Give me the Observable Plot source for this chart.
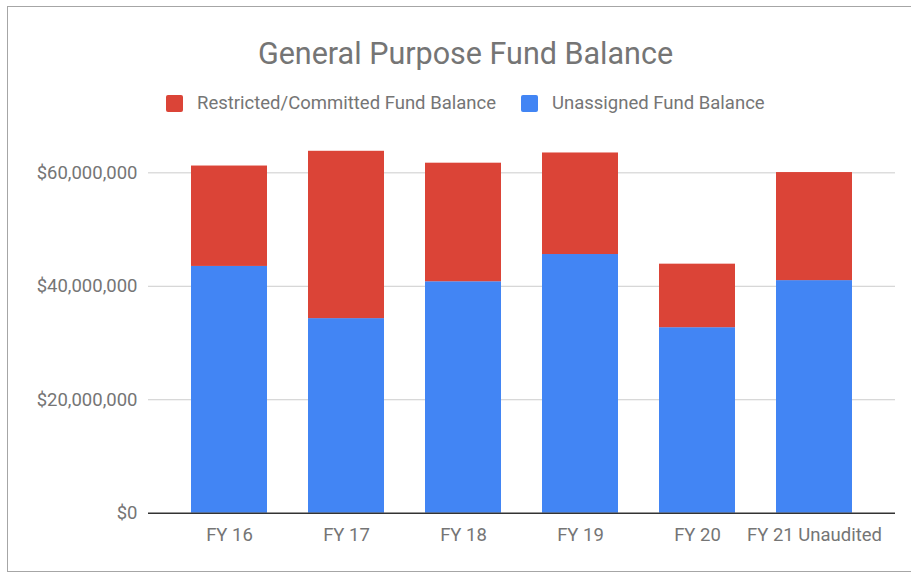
<!DOCTYPE html>
<html>
<head>
<meta charset="utf-8">
<script src="https://cdn.jsdelivr.net/npm/d3@7"></script>
<script src="https://cdn.jsdelivr.net/npm/@observablehq/plot@0.6"></script>
<style>
  html, body { margin: 0; padding: 0; background: #fff; }
  body { width: 911px; height: 574px; position: relative; overflow: hidden; font-family: Roboto, "Noto Sans", sans-serif; }
  #frame { position: absolute; left: 7px; top: 6px; width: 910px; height: 566px; border: 1px solid #a6a6a6; box-sizing: border-box; }
  #title { position: absolute; left: 0; width: 931px; top: 36px; text-align: center; font-size: 30.5px; color: #757575; line-height: 36px; }
  .leg { position: absolute; top: 93px; height: 20px; display: flex; align-items: center; font-size: 18.5px; color: #757575; white-space: nowrap; }
  .sw { width: 17px; height: 17px; border-radius: 2px; margin-right: 14px; }
  #chart { position: absolute; left: 0; top: 120px; }
</style>
</head>
<body>
<div id="frame"></div>
<div id="title">General Purpose Fund Balance</div>
<div id="legend"></div>
<div id="chart"></div>
<script>
const categories = ["FY 16", "FY 17", "FY 18", "FY 19", "FY 20", "FY 21 Unaudited"];
const unassigned = [43500000, 34300000, 40800000, 45600000, 32700000, 41000000];
const restricted = [17700000, 29500000, 20900000, 17900000, 11200000, 19050000];
const seriesNames = ["Unassigned Fund Balance", "Restricted/Committed Fund Balance"];
const seriesColors = ["#4285f4", "#db4437"];
const yTicks = [0, 20000000, 40000000, 60000000];
const legendOrder = ["Restricted/Committed Fund Balance", "Unassigned Fund Balance"];
const legendLeft = [166, 521];

const data = [];
categories.forEach((c, i) => {
  data.push({cat: c, series: seriesNames[0], value: unassigned[i]});
  data.push({cat: c, series: seriesNames[1], value: restricted[i]});
});

const legend = document.getElementById("legend");
legendOrder.forEach((name, i) => {
  const d = document.createElement("div");
  d.className = "leg";
  d.style.left = legendLeft[i] + "px";
  const sw = document.createElement("div");
  sw.className = "sw";
  sw.style.background = seriesColors[seriesNames.indexOf(name)];
  const t = document.createElement("span");
  t.textContent = name;
  d.appendChild(sw); d.appendChild(t);
  legend.appendChild(d);
});

const fmt = d => "$" + d3.format(",")(d);

const plot = Plot.plot({
  width: 911,
  height: 454,
  marginLeft: 148,
  marginRight: 16,
  marginTop: 18.3,
  marginBottom: 61.3,
  style: { fontFamily: "Roboto, 'Noto Sans', sans-serif", fontSize: "18.5px", color: "#757575", background: "transparent" },
  x: { domain: categories, paddingInner: 0.35, paddingOuter: 0.355, label: null },
  y: { domain: [0, 66000000], label: null },
  color: { domain: seriesNames, range: seriesColors },
  marks: [
    Plot.ruleY(yTicks.filter(t => t > 0), { stroke: "#cccccc", strokeWidth: 1 }),
    Plot.barY(data, Plot.stackY({ x: "cat", y: "value", fill: "series", order: seriesNames })),
    Plot.ruleY([0], { stroke: "#333333", strokeWidth: 1.5 }),
    Plot.axisY({ ticks: yTicks, tickFormat: fmt, tickSize: 0, tickPadding: 11, fill: "#757575", fontSize: "18.5px", label: null }),
    Plot.axisX({ tickSize: 0, tickPadding: 15, fill: "#757575", fontSize: "18.5px", label: null })
  ]
});
document.getElementById("chart").appendChild(plot);
</script>
</body>
</html>
